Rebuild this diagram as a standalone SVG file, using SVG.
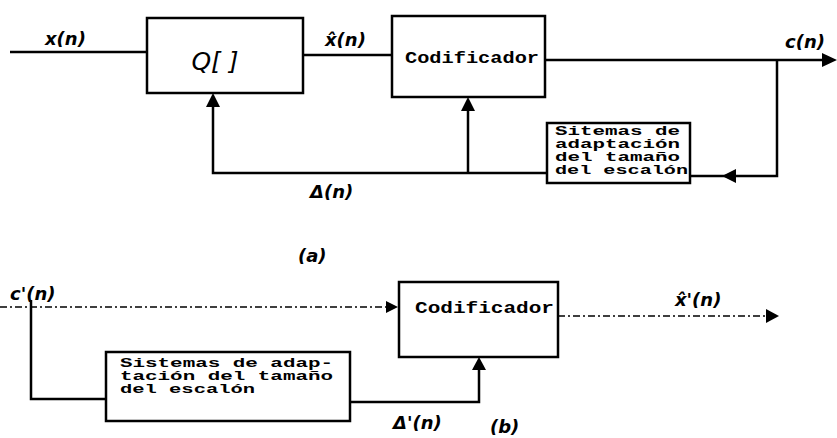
<svg xmlns="http://www.w3.org/2000/svg" width="837" height="438" viewBox="0 0 837 438">
<style>
.box{fill:none;stroke:#000;stroke-width:2.5}
.ln{fill:none;stroke:#000;stroke-width:2.5}
.dl{fill:none;stroke:#000;stroke-width:1.6;stroke-dasharray:7 3 2 3}
.ah{fill:#000}
.tw{font-family:"Liberation Mono",monospace;font-weight:bold;font-size:17px;fill:#000}
.tws{font-family:"Liberation Mono",monospace;font-weight:bold;font-size:12px;fill:#000}
.hw{font-family:"DejaVu Sans",sans-serif;font-style:italic;font-weight:bold;font-size:18px;fill:#000}
</style>
<rect width="837" height="438" fill="#fff"/>
<g id="connectors">
<line class="ln" x1="10" y1="52" x2="147" y2="52"/>
<line class="ln" x1="303" y1="55" x2="392" y2="55"/>
<line class="ln" x1="545" y1="60" x2="826" y2="60"/>
<polygon class="ah" points="837,60 822,53 822,67"/>
<polyline class="ln" points="777,60 777,176 690,176"/>
<polygon class="ah" points="722,176 736,169 736,183"/>
<polyline class="ln" points="547,173 213,173 213,104"/>
<polygon class="ah" points="213,93 206,107 220,107"/>
<line class="ln" x1="468" y1="173" x2="468" y2="108"/>
<polygon class="ah" points="468,97 461,111 475,111"/>
<line class="dl" x1="0" y1="307" x2="388" y2="307"/>
<polygon class="ah" points="398,307 386,301 386,313"/>
<polyline class="ln" points="31,300 31,399 106,399"/>
<polyline class="ln" points="350,402 479,402 479,367"/>
<polygon class="ah" points="479,357 472,370 486,370"/>
<line class="dl" x1="558" y1="316" x2="770" y2="316"/>
<polygon class="ah" points="779,316 766,309 766,323"/>
</g>
<g id="q">
<rect class="box" x="147" y="18" width="156" height="75"/>
<text x="215" y="70" font-family="DejaVu Sans,sans-serif" font-style="italic" font-size="25" text-anchor="middle">Q[ ]</text>
</g>
<g id="cod1">
<rect class="box" x="392" y="16" width="153" height="81"/>
<text class="tw" x="405" y="63" textLength="134" lengthAdjust="spacingAndGlyphs">Codificador</text>
</g>
<g id="adapt1">
<rect class="box" x="547" y="123" width="143" height="60"/>
<text class="tws" x="555" y="135" textLength="125" lengthAdjust="spacingAndGlyphs">Sitemas de</text>
<text class="tws" x="555" y="148" textLength="125" lengthAdjust="spacingAndGlyphs">adaptación</text>
<text class="tws" x="555" y="161" textLength="125" lengthAdjust="spacingAndGlyphs">del tamaño</text>
<text class="tws" x="555" y="174" textLength="133" lengthAdjust="spacingAndGlyphs">del escalón</text>
</g>
<g id="cod2">
<rect class="box" x="399" y="282" width="159" height="75"/>
<text class="tw" x="415" y="313" textLength="139" lengthAdjust="spacingAndGlyphs">Codificador</text>
</g>
<g id="adapt2">
<rect class="box" x="106" y="352" width="244" height="69"/>
<text class="tws" x="120" y="367" textLength="213" lengthAdjust="spacingAndGlyphs">Sistemas de adap-</text>
<text class="tws" x="120" y="380" textLength="213" lengthAdjust="spacingAndGlyphs">tación del tamaño</text>
<text class="tws" x="120" y="393" textLength="135" lengthAdjust="spacingAndGlyphs">del escalón</text>
</g>
<g id="labels">
<text class="hw" x="45" y="45">x(n)</text>
<text class="hw" x="325" y="46">x̂(n)</text>
<text class="hw" x="785" y="48">c(n)</text>
<text class="hw" x="310" y="198">Δ(n)</text>
<text class="hw" x="298" y="262" font-size="22">(a)</text>
<text class="hw" x="10" y="300">c'(n)</text>
<text class="hw" x="675" y="306" font-size="20">x̂'(n)</text>
<text class="hw" x="393" y="429">Δ'(n)</text>
<text class="hw" x="490" y="433" font-size="22">(b)</text>
</g>
</svg>
